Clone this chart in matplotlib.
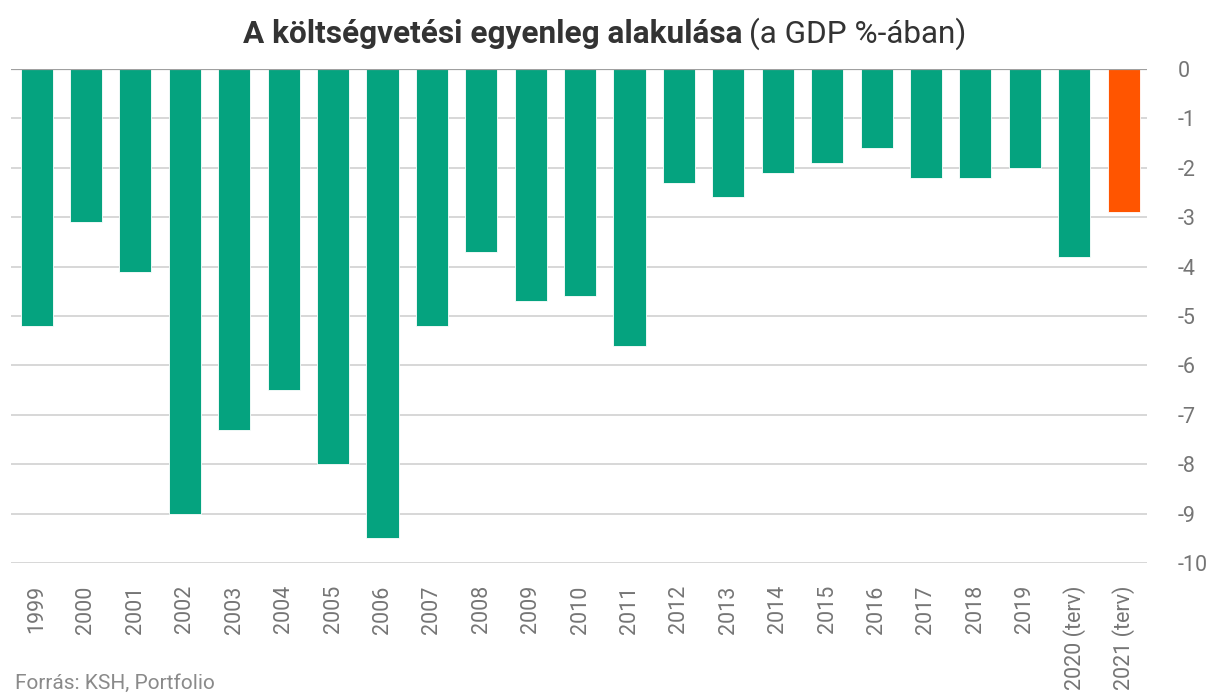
import matplotlib.pyplot as plt

plt.rcParams['font.family'] = ['Roboto', 'DejaVu Sans']

# Költségvetési egyenleg (a GDP %-ában)
years = ['1999', '2000', '2001', '2002', '2003', '2004', '2005', '2006', '2007', '2008',
         '2009', '2010', '2011', '2012', '2013', '2014', '2015', '2016', '2017', '2018',
         '2019', '2020 (terv)', '2021 (terv)']
balance = [-5.2, -3.1, -4.1, -9.0, -7.3, -6.5, -8.0, -9.5, -5.2, -3.7,
           -4.7, -4.6, -5.6, -2.3, -2.6, -2.1, -1.9, -1.6, -2.2, -2.2,
           -2.0, -3.8, -2.9]
bar_colors = ['#05a37f'] * 22 + ['#ff5500']
y_ticks = [0, -1, -2, -3, -4, -5, -6, -7, -8, -9, -10]

fig = plt.figure(figsize=(12.09, 7), dpi=100)
ax = fig.add_axes([0.009, 0.1957, 0.940, 0.7057])

x = list(range(len(years)))
ax.bar(x, balance, width=0.65, color=bar_colors, edgecolor='white', linewidth=0.6, zorder=3)

ax.set_xlim(-0.52, 22.48)
ax.set_ylim(-10, 0)
ax.set_yticks(y_ticks)
ax.set_yticklabels([str(t) for t in y_ticks])
ax.yaxis.tick_right()
ax.tick_params(axis='y', length=0, pad=22, labelsize=15.5, labelcolor='#757575')
ax.set_xticks(x)
ax.set_xticklabels(years, rotation=90, va='top', ha='center')
ax.tick_params(axis='x', length=0, pad=16, labelsize=15.5, labelcolor='#757575')

ax.grid(axis='y', color='#d4d4d4', linewidth=1.3, zorder=0)
ax.axhline(0, color='#a0a0a0', linewidth=1.6, zorder=4)
for s in ax.spines.values():
    s.set_visible(False)

# Cím: félkövér rész + normál rész
t1 = fig.text(0.201, 0.952, 'A költségvetési egyenleg alakulása', fontsize=22.7,
              fontweight='bold', color='#333333', ha='left', va='center')
fig.canvas.draw()
bb = t1.get_window_extent()
fig.text((bb.x1 + 6) / fig.bbox.width, 0.952, '(a GDP %-ában)', fontsize=22.7,
         color='#333333', ha='left', va='center')

fig.text(0.012, 0.024, 'Forrás: KSH, Portfolio', fontsize=15, color='#8a8a8a', ha='left', va='center')

plt.savefig('out.png', dpi=100)
